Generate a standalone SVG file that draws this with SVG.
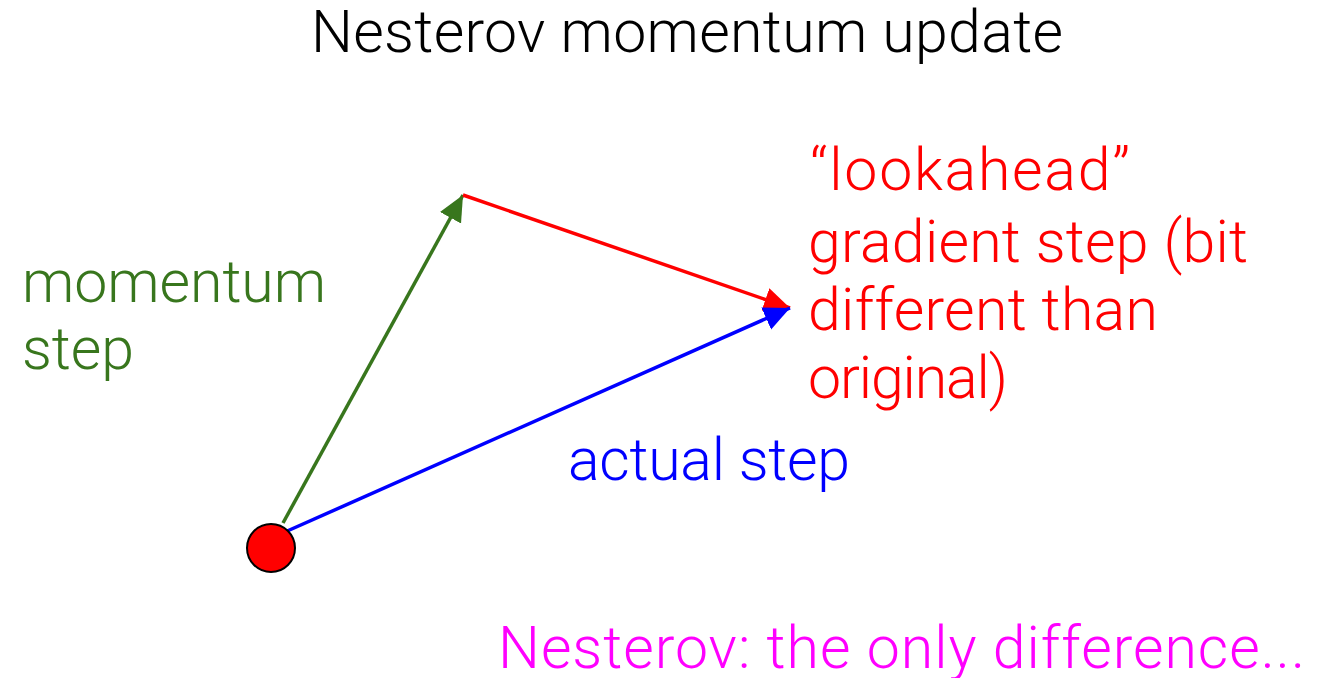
<svg xmlns="http://www.w3.org/2000/svg" width="1332" height="678" viewBox="0 0 1332 678">
<style>
text{font-family:Roboto,"Liberation Sans",sans-serif;font-size:59px;font-weight:300;}
.g{fill:#38761d}.r{fill:#ff0000}.b{fill:#0000ff}.m{fill:#ff00ff}.k{fill:#000}
</style>
<defs>
<marker id="ag" markerUnits="userSpaceOnUse" markerWidth="30" markerHeight="30" refX="26" refY="12" orient="auto"><path d="M0,0 L26,12 L0,24 z" fill="#38761d"/></marker>
<marker id="ar" markerUnits="userSpaceOnUse" markerWidth="30" markerHeight="30" refX="26" refY="12" orient="auto"><path d="M0,0 L26,12 L0,24 z" fill="#ff0000"/></marker>
<marker id="ab" markerUnits="userSpaceOnUse" markerWidth="30" markerHeight="30" refX="26" refY="12" orient="auto"><path d="M0,0 L26,12 L0,24 z" fill="#0000ff"/></marker>
</defs>
<rect width="1332" height="678" fill="#fff"/>
<text class="k" x="311" y="52" textLength="752" lengthAdjust="spacing">Nesterov momentum update</text>
<g id="connectors" fill="none" stroke-width="3.5">
<line x1="283" y1="523" x2="463" y2="195" stroke="#38761d" marker-end="url(#ag)"/>
<line x1="463" y1="195" x2="790" y2="308" stroke="#ff0000" marker-end="url(#ar)"/>
<line x1="285" y1="532" x2="790" y2="308" stroke="#0000ff" marker-end="url(#ab)"/>
</g>
<g id="start"><circle cx="271" cy="548" r="24" fill="#ff0000" stroke="#000" stroke-width="2"/></g>
<g id="momentum-label"><text class="g" x="22" y="302" textLength="304" lengthAdjust="spacing">momentum</text><text class="g" x="22" y="369" textLength="112" lengthAdjust="spacing">step</text></g>
<g id="lookahead-label">
<text class="r" x="810" y="190" textLength="320" lengthAdjust="spacing">“lookahead”</text>
<text class="r" x="808" y="262" textLength="440" lengthAdjust="spacing">gradient step (bit</text>
<text class="r" x="808" y="330" textLength="350" lengthAdjust="spacing">different than</text>
<text class="r" x="808" y="398" textLength="200" lengthAdjust="spacing">original)</text>
</g>
<g id="actual-label"><text class="b" x="568" y="480" textLength="282" lengthAdjust="spacing">actual step</text></g>
<text class="m" x="498" y="668" textLength="807" lengthAdjust="spacing">Nesterov: the only difference...</text>
</svg>
